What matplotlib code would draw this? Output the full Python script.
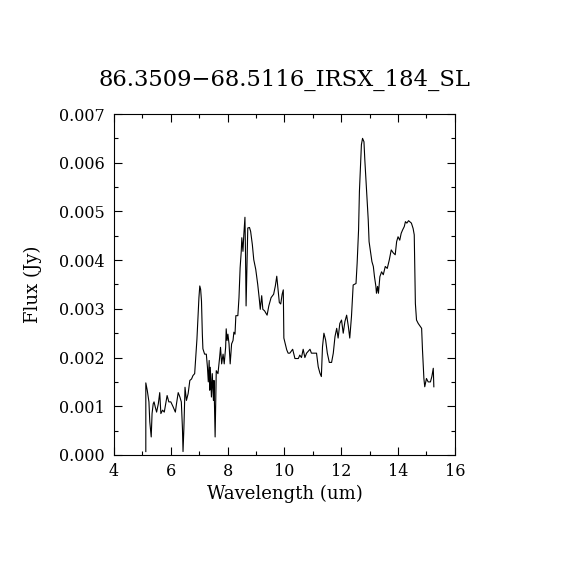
import matplotlib
matplotlib.use("Agg")
import matplotlib.pyplot as plt
from matplotlib.ticker import MultipleLocator

# spectrum
wave = [5.12, 5.12, 5.17, 5.23, 5.26, 5.31, 5.34, 5.38, 5.41, 5.45, 5.50, 5.56, 5.61, 5.65,
        5.71, 5.77, 5.82, 5.87, 5.93, 6.00, 6.08, 6.16, 6.20, 6.26, 6.32, 6.37, 6.41, 6.43,
        6.46, 6.50, 6.55, 6.61, 6.67, 6.73, 6.78, 6.84, 6.88, 6.92, 6.96, 6.99, 7.02, 7.05,
        7.08, 7.11, 7.13, 7.19, 7.25, 7.29, 7.32, 7.35, 7.37, 7.39, 7.43, 7.46, 7.50, 7.52,
        7.56, 7.58, 7.60, 7.66, 7.72, 7.75, 7.79, 7.84, 7.88, 7.93, 7.95, 7.98, 8.01, 8.05,
        8.09, 8.14, 8.19, 8.22, 8.26, 8.29, 8.36, 8.40, 8.44, 8.48, 8.50, 8.54, 8.57, 8.61,
        8.63, 8.65, 8.68, 8.71, 8.77, 8.81, 8.87, 8.92, 8.99, 9.06, 9.11, 9.15, 9.20, 9.24,
        9.30, 9.39, 9.45, 9.53, 9.62, 9.68, 9.73, 9.78, 9.82, 9.87, 9.92, 9.96, 9.98, 10.08,
        10.13, 10.19, 10.29, 10.37, 10.49, 10.54, 10.60, 10.66, 10.72, 10.78, 10.90, 10.95,
        11.13, 11.19, 11.25, 11.30, 11.34, 11.39, 11.45, 11.51, 11.58, 11.66, 11.72, 11.78,
        11.84, 11.89, 11.95, 12.01, 12.07, 12.13, 12.19, 12.25, 12.30, 12.36, 12.42, 12.52,
        12.56, 12.61, 12.64, 12.68, 12.71, 12.75, 12.80, 12.83, 12.87, 12.91, 12.95, 12.98,
        13.03, 13.08, 13.13, 13.17, 13.22, 13.24, 13.28, 13.31, 13.36, 13.42, 13.48, 13.55,
        13.62, 13.69, 13.76, 13.83, 13.90, 13.95, 14.00, 14.06, 14.11, 14.16, 14.22, 14.26,
        14.31, 14.37, 14.41, 14.47, 14.53, 14.57, 14.59, 14.61, 14.65, 14.71, 14.77, 14.83,
        14.86, 14.91, 14.94, 15.00, 15.06, 15.14, 15.19, 15.24, 15.26]
flux = [0.00007, 0.00148, 0.00133, 0.00109, 0.00068, 0.00037, 0.00085, 0.00105, 0.00109,
        0.00099, 0.00088, 0.00105, 0.00128, 0.00085, 0.00092, 0.00088, 0.00105, 0.00122,
        0.00109, 0.00109, 0.00099, 0.00088, 0.00105, 0.00128, 0.00119, 0.00109, 0.00054,
        0.00007, 0.00054, 0.00139, 0.00112, 0.00126, 0.00153, 0.00156, 0.00163, 0.00167,
        0.00201, 0.00238, 0.00286, 0.00323, 0.00347, 0.00340, 0.00316, 0.00248, 0.00218,
        0.00207, 0.00207, 0.00180, 0.00150, 0.00194, 0.00133, 0.00180, 0.00119, 0.00167,
        0.00112, 0.00153, 0.00037, 0.00112, 0.00173, 0.00167, 0.00201, 0.00221, 0.00187,
        0.00207, 0.00187, 0.00221, 0.00259, 0.00235, 0.00248, 0.00228, 0.00187, 0.00228,
        0.00235, 0.00252, 0.00248, 0.00286, 0.00286, 0.00323, 0.00384, 0.00418, 0.00446,
        0.00418, 0.00452, 0.00488, 0.00412, 0.00306, 0.00384, 0.00466, 0.00467, 0.00459,
        0.00432, 0.00401, 0.00381, 0.00350, 0.00323, 0.00299, 0.00327, 0.00299, 0.00296,
        0.00287, 0.00306, 0.00323, 0.00330, 0.00347, 0.00367, 0.00337, 0.00313, 0.00310,
        0.00330, 0.00339, 0.00240, 0.00216, 0.00209, 0.00209, 0.00217, 0.00198, 0.00198,
        0.00205, 0.00200, 0.00217, 0.00200, 0.00209, 0.00217, 0.00209, 0.00209, 0.00181,
        0.00168, 0.00161, 0.00222, 0.00250, 0.00236, 0.00209, 0.00190, 0.00190, 0.00209,
        0.00243, 0.00260, 0.00240, 0.00270, 0.00277, 0.00250, 0.00274, 0.00287, 0.00264,
        0.00240, 0.00284, 0.00349, 0.00352, 0.00394, 0.00462, 0.00541, 0.00599, 0.00637,
        0.00650, 0.00643, 0.00606, 0.00565, 0.00524, 0.00483, 0.00438, 0.00418, 0.00397,
        0.00387, 0.00366, 0.00346, 0.00332, 0.00346, 0.00332, 0.00366, 0.00376, 0.00370,
        0.00387, 0.00383, 0.00400, 0.00421, 0.00415, 0.00411, 0.00438, 0.00448, 0.00441,
        0.00455, 0.00462, 0.00469, 0.00479, 0.00476, 0.00481, 0.00479, 0.00476, 0.00465,
        0.00452, 0.00387, 0.00311, 0.00277, 0.00270, 0.00265, 0.00260, 0.00216, 0.00157,
        0.00140, 0.00157, 0.00150, 0.00150, 0.00161, 0.00178, 0.00140]

title = "86.3509\u221268.5116_IRSX_184_SL"

plt.rcParams['font.family'] = ['DejaVu Serif']

fig = plt.figure(figsize=(5.7, 5.7), dpi=100)
ax = fig.add_axes([0.2, 0.2018, 0.598, 0.5982])
ax.plot(wave, flux, color="black", linewidth=0.8)

ax.set_xlim(4, 16)
ax.set_ylim(0, 0.007)
ax.xaxis.set_major_locator(MultipleLocator(2))
ax.xaxis.set_minor_locator(MultipleLocator(1))
ax.yaxis.set_major_locator(MultipleLocator(0.001))
ax.yaxis.set_minor_locator(MultipleLocator(0.0005))
ax.yaxis.set_major_formatter(plt.FuncFormatter(lambda v, p: "%.3f" % v))

ax.tick_params(which="both", direction="in", top=True, right=True, labelsize=11.5, width=0.8)
ax.tick_params(which="major", length=6)
ax.tick_params(which="minor", length=3)
ax.tick_params(axis="y", which="major", pad=7)
ax.tick_params(axis="x", which="major", pad=6)
for s in ax.spines.values():
    s.set_linewidth(0.8)

ax.set_xlabel("Wavelength (um)", fontsize=13, labelpad=3)
ax.set_ylabel("Flux (Jy)", fontsize=13, labelpad=12)
ax.set_title(title, fontsize=16.3, pad=20)

fig.savefig("out.png", dpi=100)
